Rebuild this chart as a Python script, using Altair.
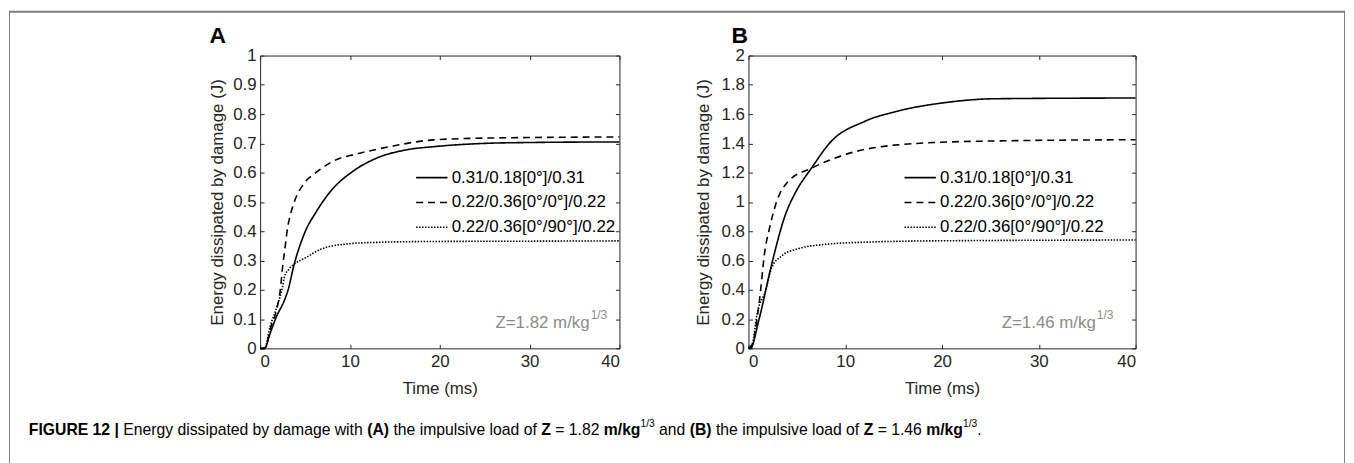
import altair as alt
import pandas as pd

# ---------------- data ----------------
SERIES = ["0.31/0.18[0°]/0.31", "0.22/0.36[0°/0°]/0.22", "0.22/0.36[0°/90°]/0.22"]
DASHES = [[1, 0], [7, 5], [1.5, 1.5]]
X_TICKS = [0, 10, 20, 30, 40]
A_Y_TICKS = [0, 0.1, 0.2, 0.3, 0.4, 0.5, 0.6, 0.7, 0.8, 0.9, 1]
B_Y_TICKS = [0, 0.2, 0.4, 0.6, 0.8, 1, 1.2, 1.4, 1.6, 1.8, 2]

# Panel A
a_solid_t = [0, 0.5, 1.1, 1.8, 2.7, 3.1, 3.8, 4.9, 6.3, 8.0, 10.3, 13.0, 16.3, 19.4, 25, 30, 40]
a_solid_v = [0, 0, 0.05, 0.107, 0.164, 0.198, 0.288, 0.39, 0.469, 0.542, 0.604, 0.65, 0.678, 0.689, 0.700, 0.703, 0.705]
a_dash_t = [0, 0.5, 1.2, 1.9, 2.25, 2.5, 2.8, 3.05, 3.4, 3.8, 4.8, 6.2, 8.2, 11.2, 14.6, 19.3, 25, 30, 40]
a_dash_v = [0, 0, 0.073, 0.14, 0.2, 0.277, 0.35, 0.41, 0.46, 0.50, 0.56, 0.60, 0.64, 0.667, 0.69, 0.712, 0.718, 0.72, 0.722]
a_dot_t = [0, 0.5, 1.1, 1.95, 2.5, 2.7, 3.2, 3.8, 5.1, 6.8, 9.5, 13.0, 19.3, 30, 40]
a_dot_v = [0, 0, 0.073, 0.15, 0.21, 0.243, 0.27, 0.288, 0.31, 0.339, 0.356, 0.362, 0.365, 0.366, 0.367]

# Panel B
b_solid_t = [0, 0.2, 1.06, 2.4, 3.8, 4.9, 6.5, 8.5, 12, 15.4, 20.5, 25.5, 40]
b_solid_v = [0, 0, 0.19, 0.575, 0.91, 1.07, 1.23, 1.41, 1.55, 1.62, 1.68, 1.705, 1.71]
b_dash_t = [0, 0.4, 1.05, 1.75, 2.1, 2.9, 4.1, 6.5, 10.3, 15.4, 24, 40]
b_dash_v = [0, 0.03, 0.28, 0.69, 0.8, 1.0, 1.14, 1.23, 1.33, 1.39, 1.415, 1.425]
b_dot_t = [0, 0.4, 0.9, 1.75, 2.4, 3.4, 5.1, 7.9, 12, 20.5, 40]
b_dot_v = [0, 0.03, 0.24, 0.39, 0.55, 0.63, 0.68, 0.71, 0.725, 0.735, 0.74]

Z_LABELS = ["Z=1.82 m/kg", "Z=1.46 m/kg"]
Z_SUP = "1/3"
PANEL_LETTERS = ["A", "B"]
X_TITLE = "Time (ms)"
Y_TITLE = "Energy dissipated by damage (J)"

CAPTION = [
    ("FIGURE 12 |", "b"), (" Energy dissipated by damage with ", "r"), ("(A)", "b"),
    (" the impulsive load of ", "r"), ("Z", "b"), (" = 1.82 ", "r"), ("m/kg", "b"),
    ("1/3", "s"), (" and ", "r"), ("(B)", "b"), (" the impulsive load of ", "r"),
    ("Z", "b"), (" = 1.46 ", "r"), ("m/kg", "b"), ("1/3", "s"), (".", "r"),
]

# ---------------- helpers ----------------
FONT = "Liberation Sans"
INK = "#262626"

REG = {' ': 278, '(': 333, ')': 333, '.': 278, '/': 278, '=': 584, '|': 260,
       'A': 667, 'B': 667, 'E': 667, 'F': 611, 'G': 778, 'I': 278, 'R': 722, 'U': 722, 'Z': 611,
       'a': 556, 'b': 556, 'c': 500, 'd': 556, 'e': 556, 'f': 278, 'g': 556, 'h': 556, 'i': 222,
       'k': 500, 'l': 222, 'm': 833, 'n': 556, 'o': 556, 'p': 556, 'r': 333, 's': 500, 't': 278,
       'u': 556, 'v': 500, 'w': 722, 'y': 500}
BOLD = {' ': 278, '(': 333, ')': 333, '.': 278, '/': 278, '|': 280,
        'A': 722, 'B': 722, 'E': 667, 'F': 611, 'G': 778, 'I': 278, 'R': 722, 'U': 722, 'Z': 611,
        'g': 611, 'k': 556, 'm': 889}


def tw(s, table, size):
    return sum(table.get(c, 556) for c in s) * size / 1000.0


def series_df(ts, vs, name):
    return pd.DataFrame({"t": ts, "v": vs, "series": name})


dfA = pd.concat([series_df(a_solid_t, a_solid_v, SERIES[0]),
                 series_df(a_dash_t, a_dash_v, SERIES[1]),
                 series_df(a_dot_t, a_dot_v, SERIES[2])], ignore_index=True)
dfB = pd.concat([series_df(b_solid_t, b_solid_v, SERIES[0]),
                 series_df(b_dash_t, b_dash_v, SERIES[1]),
                 series_df(b_dot_t, b_dot_v, SERIES[2])], ignore_index=True)

PLOT_H = 295


def make_panel(df, ymax, yticks, w, leg_x, leg_y, zlabel, z_x, letter, letter_x, ytitle_x):
    xs = alt.Scale(domain=[0, 40], nice=False, zero=False)
    ys = alt.Scale(domain=[0, ymax], nice=False)
    lines = alt.Chart(df).mark_line(color="black", strokeWidth=1.6, interpolate="monotone").encode(
        x=alt.X("t:Q", scale=xs, axis=alt.Axis(
            values=X_TICKS, title=X_TITLE, grid=False, domain=False, ticks=False, tickSize=0,
            labelPadding=5, labelFontSize=17, labelColor=INK, labelFont=FONT, format="d",
            titleFontSize=17, titleFontWeight="normal", titleColor=INK, titleFont=FONT,
            titleX=w / 2, titleY=40, titleBaseline="middle", titleAlign="center")),
        y=alt.Y("v:Q", scale=ys, axis=alt.Axis(
            values=yticks, title=Y_TITLE, grid=False, domain=False, ticks=False, tickSize=0,
            labelPadding=4, labelFontSize=17, labelColor=INK, labelFont=FONT, format="~g",
            titleFontSize=17, titleFontWeight="normal", titleColor=INK, titleFont=FONT,
            titleX=ytitle_x, titleY=PLOT_H / 2, titleAngle=270, titleBaseline="middle",
            titleAlign="center")),
        strokeDash=alt.StrokeDash("series:N", scale=alt.Scale(domain=SERIES, range=DASHES),
                                  legend=alt.Legend(
                                      title=None, orient="none", legendX=leg_x, legendY=leg_y,
                                      symbolType="stroke", symbolSize=1000, symbolStrokeWidth=1.6,
                                      symbolStrokeColor="black", labelFontSize=17, labelColor="black",
                                      labelFont=FONT, labelLimit=400, rowPadding=-8, labelOffset=3,
                                      padding=0)),
    )
    tick_common = dict(grid=False, domain=False, labels=False, title=None, tickSize=4,
                       tickColor=INK, tickWidth=1, offset=-4)
    ticks_bl = alt.Chart(df).mark_point(opacity=0).encode(
        x=alt.X("t:Q", scale=xs, axis=alt.Axis(values=X_TICKS, orient="bottom", **tick_common)),
        y=alt.Y("v:Q", scale=ys, axis=alt.Axis(values=yticks, orient="left", **tick_common)),
    )
    ticks_tr = alt.Chart(df).mark_point(opacity=0).encode(
        x=alt.X("t:Q", scale=xs, axis=alt.Axis(values=X_TICKS, orient="top", **tick_common)),
        y=alt.Y("v:Q", scale=ys, axis=alt.Axis(values=yticks, orient="right", **tick_common)),
    )
    zt = alt.Chart(pd.DataFrame({"s": [zlabel]})).mark_text(
        align="right", baseline="middle", fontSize=17, color="#8c8c8c", font=FONT
    ).encode(x=alt.value(z_x), y=alt.value(270), text="s:N")
    zs = alt.Chart(pd.DataFrame({"s": [Z_SUP]})).mark_text(
        align="left", baseline="middle", fontSize=12, color="#8c8c8c", font=FONT
    ).encode(x=alt.value(z_x + 1), y=alt.value(261), text="s:N")
    let = alt.Chart(pd.DataFrame({"s": [letter]})).mark_text(
        align="left", baseline="middle", fontSize=23, fontWeight="bold", color="black", font=FONT
    ).encode(x=alt.value(letter_x), y=alt.value(-20), text="s:N")
    return alt.layer(lines, ticks_bl, ticks_tr, zt, zs, let).resolve_axis(
        x="independent", y="independent"
    ).properties(width=w, height=PLOT_H, view=alt.ViewBackground(stroke=INK, strokeWidth=1))


panelA = make_panel(dfA, 1, A_Y_TICKS, 362, 156, 106, Z_LABELS[0], 332, PANEL_LETTERS[0], -51, -43)
panelB = make_panel(dfB, 2, B_Y_TICKS, 390, 156, 106, Z_LABELS[1], 350, PANEL_LETTERS[1], -17, -45)

# ---------------- left column: frame + caption ----------------
LEFT_W = 123
dummy = pd.DataFrame({"a": [0]})
GRAY = "#7f7f7f"
top_line = alt.Chart(dummy).mark_rule(color=GRAY, strokeWidth=2).encode(
    x=alt.value(0), x2=alt.value(1346), y=alt.value(-44))
left_line = alt.Chart(dummy).mark_rule(color=GRAY, strokeWidth=1).encode(
    x=alt.value(0.5), y=alt.value(-45), y2=alt.value(460))
right_line = alt.Chart(dummy).mark_rule(color=GRAY, strokeWidth=1).encode(
    x=alt.value(1345.5), y=alt.value(-45), y2=alt.value(460))

CAP_SIZE = 15.85
CAP_X0 = 20
CAP_Y = 377
rows = []
cx = CAP_X0
for seg, kind in CAPTION:
    if kind == "s":
        size, table = CAP_SIZE * 0.65, REG
    elif kind == "b":
        size, table = CAP_SIZE, BOLD
    else:
        size, table = CAP_SIZE, REG
    lead = len(seg) - len(seg.lstrip(" "))
    x_text = cx + tw(" " * lead, table, size)
    rows.append({"txt": seg.strip(" "), "x": x_text, "kind": kind})
    cx += tw(seg, table, size)
cap_df = pd.DataFrame(rows)

cap_layers = []
for kind, weight, size, dy in [("b", "bold", CAP_SIZE, 0), ("r", "normal", CAP_SIZE, 0),
                               ("s", "normal", CAP_SIZE * 0.65, -6)]:
    cap_layers.append(
        alt.Chart(cap_df).transform_filter(alt.datum.kind == kind).mark_text(
            align="left", baseline="middle", fontSize=size, fontWeight=weight, color="black",
            font=FONT, dy=dy
        ).encode(x=alt.X("x:Q", scale=None), y=alt.value(CAP_Y), text="txt:N")
    )

left_col = alt.layer(top_line, left_line, right_line, *cap_layers).properties(
    width=LEFT_W, height=PLOT_H, view=alt.ViewBackground(stroke="transparent", strokeWidth=0))

chart = alt.hconcat(left_col, panelA, panelB, spacing=130, bounds="flush").resolve_scale(
    strokeDash="independent"
).properties(padding=0).configure_view(stroke="transparent").configure(font=FONT)

chart.save("out.html", embed_options={"renderer": "svg", "actions": False})
